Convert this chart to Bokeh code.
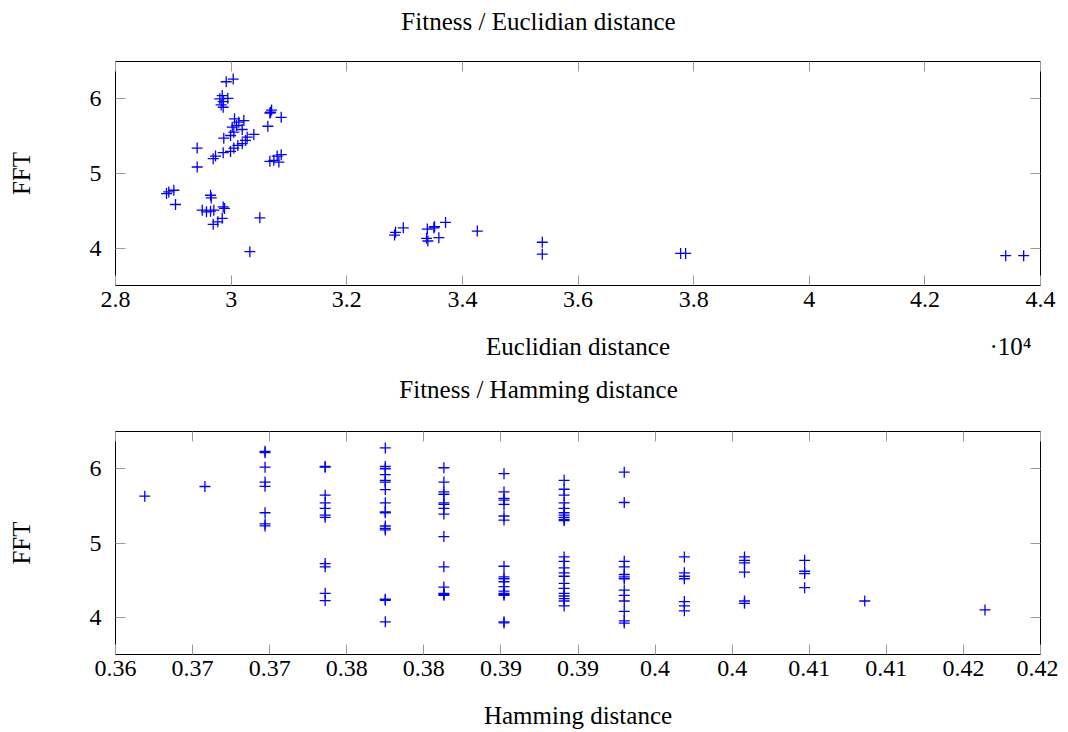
from bokeh.plotting import figure
from bokeh.models import Range1d, FixedTicker, CustomJSTickFormatter, LinearAxis
from bokeh.layouts import column
from bokeh.embed import file_html
from bokeh.resources import INLINE

# ---------------- data ----------------
euc_dist = [30036, 29915, 29846, 29805, 29943, 29863, 29828, 29863,
            30682, 30670, 30700, 30866, 30635,
            30059, 30220, 30019, 30093, 30192, 30047, 29990, 30393, 29873,
            30249, 30192, 30116, 30047, 29990, 29863, 29730, 29690, 30133, 30278,
            29413, 29413,
            30670, 30739, 30826, 30866, 30797,
            28922, 29009, 28882, 29038,
            29644, 29656, 29500, 29574, 29644, 29701, 29863, 29886, 29846, 29770, 29690,
            30497, 30324,
            32844, 32978, 32827, 33393, 33519, 33709, 33381, 33403, 33593, 33507,
            34258, 35382, 35382, 37775, 37862, 43398, 43709]
euc_fft = [6.265, 6.229, 6.043, 6.0, 6.007, 5.963, 5.919, 5.887,
           5.82, 5.81, 5.85, 5.753, 5.633,
           5.732, 5.709, 5.62, 5.643, 5.589, 5.553, 5.509, 5.523, 5.473,
           5.443, 5.399, 5.376, 5.34, 5.296, 5.279, 5.233, 5.199, 5.687, 5.487,
           5.34, 5.087,
           5.163, 5.176, 5.153, 5.252, 5.233,
           4.753, 4.776, 4.731, 4.585,
           4.709, 4.673, 4.509, 4.487, 4.496, 4.509, 4.553, 4.532, 4.399, 4.353, 4.319,
           4.407, 3.953,
           4.212, 4.273, 4.176, 4.256, 4.287, 4.345, 4.132, 4.096, 4.14, 4.273,
           4.229, 4.079, 3.919, 3.93, 3.93, 3.9, 3.9]

ham_dist = ([0.3619] + [0.3658]
            + [0.3697] * 8 + [0.3736] * 11 + [0.3775] * 16 + [0.3813] * 14
            + [0.3852] * 18 + [0.3891] * 22 + [0.3930] * 13 + [0.3969] * 7
            + [0.4008] * 6 + [0.4047] * 4 + [0.4086] + [0.4164])
ham_fft = ([5.63] + [5.76]
           + [6.233, 6.215, 6.02, 5.82, 5.763, 5.407, 5.256, 5.23]
           + [6.029, 6.02, 5.643, 5.54, 5.465, 5.376, 5.345, 4.723, 4.679, 4.323, 4.225]
           + [6.279, 6.029, 5.999, 5.919, 5.843, 5.82, 5.719, 5.54, 5.42, 5.407, 5.229,
              5.198, 5.176, 4.243, 4.23, 3.94]
           + [6.012, 5.82, 5.687, 5.656, 5.54, 5.519, 5.465, 5.389, 5.087, 4.679, 4.407,
              4.323, 4.296, 4.31]
           + [5.932, 5.687, 5.599, 5.576, 5.519, 5.363, 5.309, 4.687, 4.545, 4.519, 4.479,
              4.412, 4.353, 4.323, 4.296, 4.31, 3.94, 3.925]
           + [5.843, 5.723, 5.643, 5.54, 5.465, 5.407, 5.376, 5.345, 5.319, 5.3, 4.812,
              4.753, 4.665, 4.599, 4.553, 4.456, 4.389, 4.323, 4.287, 4.252, 4.22, 4.153]
           + [5.953, 5.545, 4.753, 4.679, 4.576, 4.545, 4.519, 4.367, 4.296, 4.22, 4.079,
              3.953, 3.923]
           + [4.812, 4.599, 4.553, 4.519, 4.212, 4.153, 4.087]
           + [4.812, 4.767, 4.732, 4.607, 4.22, 4.189]
           + [4.767, 4.62, 4.589, 4.399]
           + [4.22]
           + [4.1])

euc_ticks = [28000, 30000, 32000, 34000, 36000, 38000, 40000, 42000, 44000]
euc_tick_labels = ["2.8", "3", "3.2", "3.4", "3.6", "3.8", "4", "4.2", "4.4"]
euc_scale_text = "·10⁴"
ham_ticks = [0.36, 0.365, 0.37, 0.375, 0.38, 0.385, 0.39, 0.395, 0.40, 0.405, 0.41, 0.415, 0.42]
ham_tick_labels = ["0.36", "0.37", "0.37", "0.38", "0.38", "0.39", "0.39", "0.4", "0.4",
                   "0.41", "0.41", "0.42", "0.42"]
fft_ticks = [4, 5, 6]
fft_tick_labels = ["4", "5", "6"]

FONT = "Liberation Serif"
BLUE = "#0000ff"
TICK_COLOR = "#9a9a9a"
TICK_SIZE = "24px"
TEXT_SIZE = "25px"
TITLE_FRAC = 0.4573   # titles are centred on the whole picture, left of the frame centre


def formatter(tvals, tlabels):
    return CustomJSTickFormatter(args=dict(tvals=tvals, tlabels=tlabels), code="""
        let best = 0;
        for (let i = 0; i < tvals.length; i++) {
            if (Math.abs(tvals[i] - tick) < Math.abs(tvals[best] - tick)) best = i;
        }
        return tlabels[best];
    """)


def style_axis(ax, show_labels):
    ax.axis_line_color = None
    ax.major_tick_line_color = TICK_COLOR
    ax.major_tick_line_width = 1
    ax.major_tick_in = 10
    ax.major_tick_out = 0
    ax.minor_tick_line_color = None
    ax.major_label_text_font = FONT
    ax.major_label_text_color = "black"
    ax.major_label_text_font_size = TICK_SIZE
    ax.axis_label_text_font = FONT
    ax.axis_label_text_font_size = TEXT_SIZE
    ax.axis_label_text_font_style = "normal"
    ax.axis_label_text_color = "black"
    if not show_labels:
        ax.formatter = CustomJSTickFormatter(code="return '';")
        ax.major_label_standoff = 0


def text_axis(positions, texts, standoff):
    """An axis without tick marks whose tick labels carry free text."""
    ax = LinearAxis(ticker=FixedTicker(ticks=positions))
    style_axis(ax, True)
    ax.major_tick_line_color = None
    ax.major_tick_in = 0
    ax.major_label_text_font_size = TEXT_SIZE
    ax.formatter = formatter(positions, texts)
    ax.major_label_standoff = standoff
    return ax


def make_fig(title, xlabel, xr, xticks, xlabels, xs, ys, height, top, bottom, title_standoff):
    p = figure(width=1058, height=height, x_range=Range1d(*xr), y_range=Range1d(3.5, 6.5),
               output_backend="svg", toolbar_location=None,
               min_border_left=115, min_border_right=18,
               min_border_top=top, min_border_bottom=bottom)
    p.grid.visible = False
    p.outline_line_color = "black"
    p.outline_line_width = 1
    p.background_fill_color = "white"
    p.border_fill_color = "white"

    xa = p.xaxis[0]
    xa.ticker = FixedTicker(ticks=xticks)
    style_axis(xa, True)
    xa.formatter = formatter(xticks, xlabels)
    xa.major_label_standoff = 6
    if xlabel is not None:
        xa.axis_label = xlabel
        xa.axis_label_standoff = 23

    ya = p.yaxis[0]
    ya.ticker = FixedTicker(ticks=fft_ticks)
    style_axis(ya, True)
    ya.formatter = formatter(fft_ticks, fft_tick_labels)
    ya.major_label_standoff = 14
    ya.axis_label = "FFT"
    ya.axis_label_standoff = 52

    # box-style top axis (inner ticks only)
    top_ax = LinearAxis(ticker=FixedTicker(ticks=xticks))
    style_axis(top_ax, False)
    p.add_layout(top_ax, "above")
    # chart title, centred on the full picture width
    title_pos = xr[0] + TITLE_FRAC * (xr[1] - xr[0])
    p.add_layout(text_axis([title_pos], [title], title_standoff), "above")

    right_ax = LinearAxis(ticker=FixedTicker(ticks=fft_ticks))
    style_axis(right_ax, False)
    p.add_layout(right_ax, "right")

    p.scatter(xs, ys, marker="cross", size=11, line_color=BLUE, line_width=1.3)
    return p


p1 = make_fig("Fitness / Euclidian distance", None, (28000, 44000),
              euc_ticks, euc_tick_labels, euc_dist, euc_fft,
              height=365, top=61, bottom=80, title_standoff=27)
# second row under the x tick labels: axis name (centred) and the x10^4 scale factor
euc_mid = (euc_ticks[0] + euc_ticks[-1]) / 2
euc_scale_pos = euc_ticks[-1] - 0.0325 * (euc_ticks[-1] - euc_ticks[0])
p1.add_layout(text_axis([euc_mid, euc_scale_pos], ["Euclidian distance", euc_scale_text], 23),
              "below")

p2 = make_fig("Fitness / Hamming distance", "Hamming distance", (0.36, 0.42),
              ham_ticks, ham_tick_labels, ham_dist, ham_fft,
              height=366, top=66, bottom=76, title_standoff=29)

layout = column(p1, p2, spacing=0)
open("out.html", "w").write(file_html(layout, INLINE))
